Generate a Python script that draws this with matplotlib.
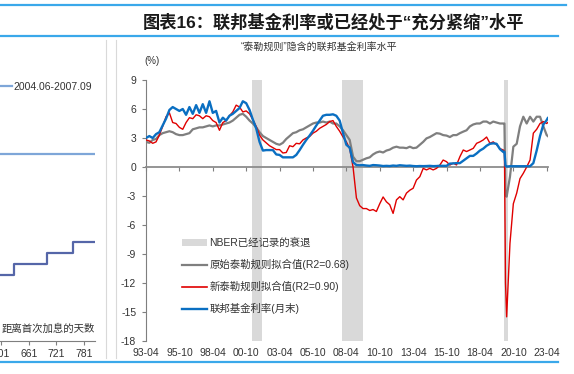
import matplotlib
matplotlib.use("Agg")
import matplotlib.pyplot as plt
import matplotlib.patches as mpatches
from matplotlib.lines import Line2D
import pandas as pd

plt.rcParams['font.family'] = ['Liberation Sans', 'Noto Sans CJK SC']
plt.rcParams['axes.unicode_minus'] = False

# ---- main chart data (quarterly, 1993-04 .. 2023-04) ----
quarters = pd.date_range('1993-04-01', '2023-04-01', freq='3MS')

fed = [3.0, 3.2, 3.0, 3.4, 3.6, 4.3, 5.0, 5.9, 6.2, 6.0, 5.8, 6.0, 5.4, 6.2, 5.5, 6.4,
       5.6, 6.5, 5.6, 6.8, 5.6, 5.8, 4.6, 5.1, 4.8, 5.3, 5.5, 5.8, 6.1, 6.8, 6.6, 5.9,
       4.9, 4.0, 2.6, 1.7, 1.75, 1.75, 1.75, 1.3, 1.25, 1.0, 1.0, 1.0, 1.0, 1.25, 1.75, 2.3,
       2.8, 3.25, 3.75, 4.3, 4.8, 5.3, 5.4, 5.4, 5.45, 5.3, 4.8, 3.5, 2.3, 2.0, 0.5, 0.2,
       0.18, 0.2, 0.15, 0.12, 0.2, 0.18, 0.15, 0.1, 0.12, 0.1, 0.15, 0.12, 0.18, 0.15, 0.12, 0.14,
       0.1, 0.08, 0.1, 0.09, 0.1, 0.12, 0.09, 0.1, 0.13, 0.12, 0.12,
       0.35, 0.37, 0.4, 0.4, 0.65, 0.9, 1.15, 1.15, 1.4, 1.7, 1.9, 2.2, 2.4, 2.45, 2.4, 1.85,
       1.55, 0.05, 0.08, 0.08, 0.08, 0.08, 0.08, 0.08, 0.08, 0.4, 1.7, 3.2, 4.4, 4.85]

taylor_new = [2.8, 2.7, 2.45, 2.6, 3.3, 4.2, 5.2, 5.6, 4.6, 4.5, 4.1, 3.9, 4.6, 5.1, 5.0, 5.4,
              5.3, 5.0, 5.3, 5.2, 4.8, 4.6, 3.8, 4.6, 4.8, 5.3, 5.7, 6.4, 6.2, 5.7, 5.8, 5.5,
              4.9, 4.2, 3.3, 2.8, 2.5, 2.2, 2.0, 1.8, 1.8, 1.45, 1.5, 2.2, 2.1, 2.45, 2.4, 2.8,
              3.0, 3.15, 3.5, 3.7, 4.0, 4.2, 4.4, 4.7, 4.8, 4.2, 3.7, 3.1, 2.6, 1.9, 0.0, -3.2,
              -4.0, -4.3, -4.3, -4.5, -4.4, -4.6, -3.8, -3.1, -3.6, -3.9, -4.8, -3.4, -3.07, -3.4, -2.7, -2.4,
              -2.2, -1.35, -1.0, -0.14, -0.3, -0.14, -0.3, -0.14, 0.2, 0.72, 0.55,
              0.2, 0.4, 0.21, 1.07, 1.76, 1.6, 1.76, 1.93, 2.45, 2.6, 2.8, 3.1, 2.45, 2.6, 2.3, 1.9,
              1.76, -15.5, -7.9, -3.8, -2.7, -1.2, -0.65, 0.0, 0.72, 3.5, 3.9, 4.5, 4.7, 4.5]

taylor_orig = [2.6, 2.5, 2.8, 2.9, 3.3, 3.5, 3.6, 3.7, 3.6, 3.4, 3.3, 3.3, 3.4, 3.5, 3.9, 4.0,
               4.1, 4.1, 4.2, 4.3, 4.2, 4.3, 4.3, 4.4, 4.5, 4.6, 4.8, 5.1, 5.4, 5.5, 5.2, 4.8,
               4.5, 4.1, 3.6, 3.2, 3.0, 2.8, 2.6, 2.4, 2.3, 2.5, 2.9, 3.2, 3.5, 3.6, 3.8, 3.9,
               4.1, 4.3, 4.5, 4.6, 4.6, 4.7, 4.6, 4.7, 4.5, 4.5, 4.2, 3.8, 3.3, 2.8, 1.07, 0.6,
               0.6, 0.75, 0.9, 1.0, 1.3, 1.5, 1.6, 1.5, 1.7, 1.8, 2.0, 2.1, 2.0, 2.0, 1.95, 2.1,
               1.95, 2.0, 2.3, 2.6, 2.96, 3.1, 3.3, 3.5, 3.45, 3.3, 3.25,
               3.1, 3.3, 3.3, 3.5, 3.66, 3.8, 4.2, 4.4, 4.5, 4.5, 4.7, 4.7, 4.5, 4.7, 4.6, 4.5,
               4.5, -3.07, -1.0, 2.1, 2.4, 4.2, 5.2, 4.5, 5.2, 4.7, 5.2, 5.2, 4.2, 3.3]

# extra monthly detail around the 2020 shock and the last print
extra_dates = pd.to_datetime(['2020-02-01', '2020-03-01', '2023-05-01'])
extra_fed = [1.58, 0.1, 5.06]
extra_new = [1.6, -12.0, 4.6]
extra_orig = [4.5, -2.9, 3.2]

recessions = [('2001-03-01', '2001-11-30'), ('2007-12-01', '2009-06-30'), ('2020-02-01', '2020-04-30')]

xtick_dates = pd.date_range('1993-04-01', '2023-04-01', freq='30MS')
yticks = [9, 6, 3, 0, -3, -6, -9, -12, -15, -18]

labels = ['NBER已经记录的衰退', '原始泰勒规则拟合值(R2=0.68)', '新泰勒规则拟合值(R2=0.90)', '联邦基金利率(月末)']

# ---- left (cut-off) chart data ----
left_days_step = [598, 629, 700, 757, 805]
left_rate_step = [2.5, 2.75, 3.0, 3.25, 3.25]
left_days_flat = [598, 805]
left_rate_flat = [5.25, 5.25]
left_xticks = [601, 661, 721, 781]

df = pd.DataFrame({'fed': fed, 'new': taylor_new, 'orig': taylor_orig}, index=quarters)
extra = pd.DataFrame({'fed': extra_fed, 'new': extra_new, 'orig': extra_orig}, index=extra_dates)
df = pd.concat([df, extra]).sort_index()

W, H = 574, 374
fig = plt.figure(figsize=(W / 100, H / 100), dpi=100)


def fx(px):
    return px / W


def fy(py):
    return 1 - py / H


# ---- page decoration ----
blue_rule = '#3aa8ea'
fig.add_artist(Line2D([0, fx(566)], [fy(5), fy(5)], color=blue_rule, lw=1.6))
fig.add_artist(Line2D([0, fx(558)], [fy(36), fy(36)], color=blue_rule, lw=1.6))
fig.add_artist(Line2D([0, fx(558)], [fy(362), fy(362)], color=blue_rule, lw=1.6))
for xv in (106, 116):
    fig.add_artist(Line2D([fx(xv), fx(xv)], [fy(40), fy(358)], color='#d9d9d9', lw=0.8))
fig.text(fx(143), fy(22), '图表16：联邦基金利率或已经处于“充分紧缩”水平', fontsize=12.4,
         fontweight='bold', color='#1a1a1a', va='center', ha='left')

# ---- main chart ----
ax = fig.add_axes([fx(146), fy(341), fx(548 - 146), (341 - 80) / H])
for a, b in recessions:
    ax.axvspan(pd.Timestamp(a), pd.Timestamp(b), color='#d9d9d9', lw=0, zorder=0)
ax.plot(df.index, df['orig'], color='#7f7f7f', lw=1.6, zorder=2)
ax.plot(df.index, df['new'], color='#e00000', lw=1.0, zorder=3)
ax.plot(df.index, df['fed'], color='#0a6fc2', lw=1.7, zorder=4)

ax.set_xlim(pd.Timestamp('1993-04-01'), pd.Timestamp('2023-05-07'))
ax.set_ylim(-18, 9)
ax.set_yticks(yticks)
ax.set_yticklabels([str(v) for v in yticks])
ax.spines['top'].set_visible(False)
ax.spines['right'].set_visible(False)
ax.spines['left'].set_color('#7f7f7f')
ax.spines['bottom'].set_position(('data', 0))
ax.spines['bottom'].set_color('#8c8c8c')
ax.spines['bottom'].set_linewidth(1.3)
ax.tick_params(axis='y', length=3, color='#7f7f7f', labelsize=7.5, labelcolor='#333333', pad=4)
ax.set_xticks(xtick_dates)
ax.tick_params(axis='x', length=3, color='#7f7f7f', labelbottom=False)
ax.patch.set_alpha(0)

sec = ax.secondary_xaxis(0)
sec.set_xticks(xtick_dates, [d.strftime('%y-%m') for d in xtick_dates])
sec.tick_params(length=0, labelsize=7.5, labelcolor='#333333', pad=5)
sec.spines['bottom'].set_visible(False)

ax.text(-0.005, 1.06, '(%)', transform=ax.transAxes, fontsize=7, color='#333333', ha='left')
ax.text(0.43, 1.11, '“泰勒规则”隐含的联邦基金利率水平', transform=ax.transAxes,
        fontsize=7.2, color='#333333', ha='center')

handles = [mpatches.Patch(color='#d9d9d9', lw=0),
           Line2D([], [], color='#7f7f7f', lw=1.6),
           Line2D([], [], color='#e00000', lw=1.2),
           Line2D([], [], color='#0a6fc2', lw=1.7)]
ax.legend(handles, labels, loc='upper left', bbox_to_anchor=(0.089, 0.395), frameon=False,
          fontsize=7.5, handlelength=2.4, handleheight=0.6, handletextpad=0.25,
          labelspacing=1.05, borderpad=0, borderaxespad=0, labelcolor='#333333')

# ---- left cut-off chart ----
lax = fig.add_axes([0, fy(340.7), fx(95), (340.7 - 76.7) / H])
lax.plot(left_days_flat, left_rate_flat, color='#7ea6d8', lw=1.6)
lax.plot(left_days_step, left_rate_step, color='#5566a8', lw=1.6, drawstyle='steps-post')
lax.set_xlim(598, 805)
lax.set_ylim(1.0, 7.0)
lax.set_xticks(left_xticks)
lax.set_yticks([])
for s in ('top', 'right', 'left'):
    lax.spines[s].set_visible(False)
lax.spines['bottom'].set_color('#7f7f7f')
lax.tick_params(axis='x', length=3, color='#7f7f7f', labelsize=7.5, labelcolor='#333333', pad=3)
lax.patch.set_alpha(0)
lax.text(1.0, 0.045, '距离首次加息的天数', transform=lax.transAxes, fontsize=7.5,
         color='#333333', ha='right', va='center')
lax.legend([Line2D([], [], color='#7ea6d8', lw=1.6)], ['2004.06-2007.09'], loc='upper left',
           bbox_to_anchor=(-0.14, 0.98), frameon=False, fontsize=7.5, handlelength=2.4,
           handletextpad=0.2, borderpad=0, borderaxespad=0, labelcolor='#333333')

fig.savefig('out.png', dpi=100)
